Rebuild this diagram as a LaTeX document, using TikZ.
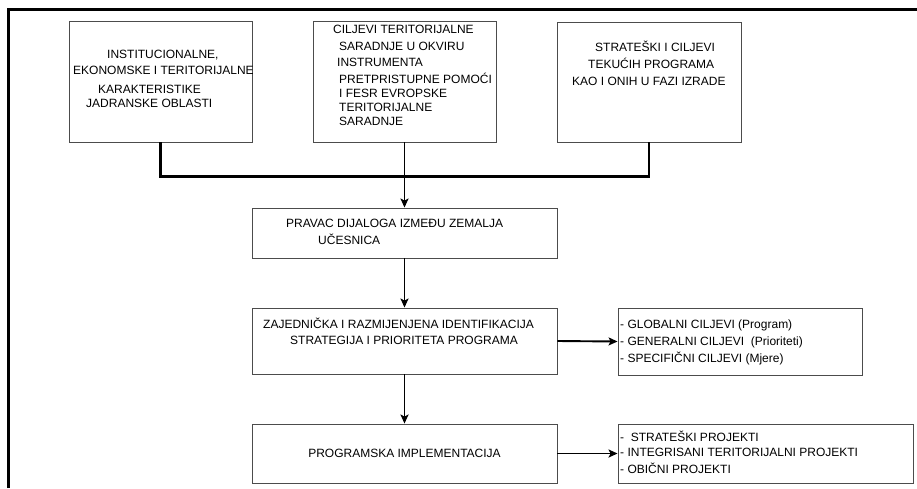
\documentclass[tikz,border=0pt]{standalone}
\usepackage{fontspec}
\setmainfont{Liberation Sans}
\usetikzlibrary{arrows.meta}

\begin{document}
\begin{tikzpicture}[x=1pt,y=-1pt]

\def\colB{black!70};
\def\colL{black};

\tikzset{
  box/.style={draw=\colB,line width=0.9pt,inner sep=0pt},
  txt/.style={font=\fontsize{12}{14}\selectfont,inner sep=0pt,
              align=left,anchor=north west},
  arr/.style={-{Stealth[length=9pt,width=8pt,inset=2pt]},
              line width=1.9pt,\colL},
  bus/.style={line width=2.8pt,\colL}
}

\useasboundingbox (0,0) rectangle (917,488);

% frame
\draw[line width=3pt,\colL] (8,488) -- (8,9) -- (917,9);

% top row
\node[box,minimum width=183pt,minimum height=121pt]
      (inst) at (160.5,81.5) {};
\node[txt] at (73,49.7)
      {\hspace*{34pt}INSTITUCIONALNE,\\[2pt]
       EKONOMSKE I TERITORIJALNE\\[5pt]
       \hspace*{25pt}KARAKTERISTIKE\\
       \hspace*{13pt}JADRANSKE OBLASTI};

\node[box,minimum width=183pt,minimum height=121pt]
      (ciljevi) at (404.5,81.5) {};
\node[txt] at (339,24.7)
      {\hspace*{-6pt}CILJEVI TERITORIJALNE\\[3pt]
       SARADNJE U OKVIRU\\[2pt]
       \hspace*{-2pt}INSTRUMENTA\\[3pt]
       PRETPRISTUPNE POMOĆI\\
       I FESR EVROPSKE\\
       TERITORIJALNE\\
       SARADNJE};

\node[box,minimum width=184pt,minimum height=120pt]
      (strat) at (649,82) {};
\node[txt] at (572,41.2)
      {\hspace*{23pt}STRATEŠKI I CILJEVI\\[3pt]
       \hspace*{16pt}TEKUĆIH PROGRAMA\\[3pt]
       KAO I ONIH U FAZI IZRADE};

% middle column
\node[box,minimum width=305pt,minimum height=50pt]
      (dijalog) at (404.5,233) {};
\node[txt] at (286,219.4)
      {PRAVAC DIJALOGA IZMEĐU ZEMALJA\\[3pt]
       \hspace*{32pt}UČESNICA};

\node[box,minimum width=305pt,minimum height=66pt]
      (ident) at (404.5,341) {};
\node[txt] at (263,318.2)
      {ZAJEDNIČKA I RAZMIJENJENA IDENTIFIKACIJA\\[2pt]
       \hspace*{27pt}STRATEGIJA I PRIORITETA PROGRAMA};

\node[box,minimum width=305pt,minimum height=59pt,
      font=\fontsize{12}{14}\selectfont]
      (impl) at (404.5,453.5) {PROGRAMSKA IMPLEMENTACIJA};

% right column
\node[box,minimum width=244pt,minimum height=67pt]
      (globalni) at (740,341.5) {};
\node[txt] at (620,319.7)
      {- GLOBALNI CILJEVI (Program)\\[3pt]
       - GENERALNI CILJEVI\ \ (Prioriteti)\\[3pt]
       - SPECIFIČNI CILJEVI (Mjere)};

\node[box,minimum width=295pt,minimum height=59pt]
      (projekti) at (765.5,453.5) {};
\node[txt] at (620,431.2)
      {-\ \ STRATEŠKI PROJEKTI\\[1pt]
       - INTEGRISANI TERITORIJALNI PROJEKTI\\[3pt]
       - OBIČNI PROJEKTI};

% connectors
\draw[bus] (inst.south) -- ++(0,34) -| (strat.south);

\draw[arr] (ciljevi.south) -- (dijalog.north);
\draw[arr] (dijalog.south) -- (ident.north);
\draw[arr] (ident.south) -- (impl.north);
\draw[arr] (ident.east) -- (globalni.west);
\draw[arr] (impl.east) -- (projekti.west);

\end{tikzpicture}
\end{document}
